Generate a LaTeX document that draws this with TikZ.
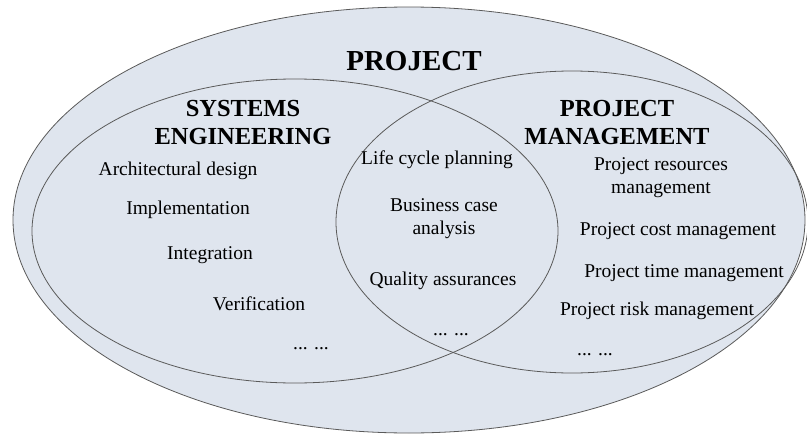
\documentclass[tikz,border=0pt]{standalone}
\usepackage{fontspec}
\setmainfont{Liberation Serif}
\definecolor{setfill}{HTML}{DFE5EE}
\definecolor{setdraw}{HTML}{5A5A5A}
\tikzstyle{setline}=[draw=setdraw,line width=0.8pt]
\tikzstyle{bigtitle}=[font=\fontsize{29}{32}\selectfont\bfseries,inner sep=0pt]
\tikzstyle{heading}=[font=\fontsize{24.5}{28}\selectfont\bfseries,align=center,inner sep=0pt]
\tikzstyle{item}=[font=\fontsize{19.5}{23}\selectfont,align=center,inner sep=0pt]

\begin{document}
\begin{tikzpicture}[x=1pt,y=-1pt]
			\useasboundingbox (0,0) rectangle (807,434);
			
			% the three sets
			\fill[setfill] (409,220) ellipse [x radius=396pt,y radius=213pt];
			\draw[setline] (409,220) ellipse [x radius=396pt,y radius=213pt];
			\draw[setline] (295,231) ellipse [x radius=263pt,y radius=152pt];
			\draw[setline] (572,222) ellipse [x radius=236pt,y radius=151pt];
			
			\node[bigtitle] (project) at (414,61) {PROJECT};
			\node[heading]  (syseng)  at (243,123) {SYSTEMS\\ENGINEERING};
			\node[heading]  (projman) at (617,123) {PROJECT\\MANAGEMENT};
			
			% systems engineering only
			\node[item] (archdesign) at (178,171) {Architectural design};
			\node[item] (implement)  at (188,210) {Implementation};
			\node[item] (integrate)  at (210,255) {Integration};
			\node[item] (verify)     at (259,304) {Verification};
			\node[item,anchor=base] (sedots) at (311,349) {... ...};
			
			% shared part
			\node[item] (lifecycle)  at (437,160) {Life cycle planning};
			\node[item] (business)   at (444,219) {Business case\\analysis};
			\node[item] (quality)    at (443,281) {Quality assurances};
			\node[item,anchor=base] (middots) at (451,335) {... ...};
			
			% project management only
			\node[item] (resources)  at (661,178) {Project resources\\management};
			\node[item] (cost)       at (678,231) {Project cost management};
			\node[item] (time)       at (684,273) {Project time management};
			\node[item] (risk)       at (657,311) {Project risk management};
			\node[item,anchor=base] (pmdots) at (595,355) {... ...};
			
			\end{tikzpicture}
\end{document}
